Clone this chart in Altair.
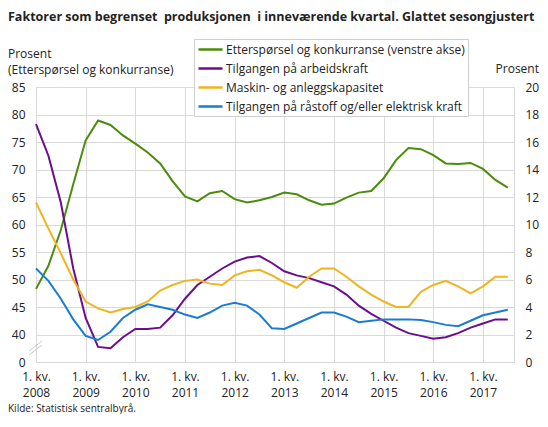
import altair as alt
import pandas as pd

FONT = "Open Sans"
W, H = 478, 275

kvartaler = [f"{aar}K{k}" for aar in range(2008, 2018) for k in range(1, 5)][:39]

navn = [
    "Etterspørsel og konkurranse (venstre akse)",
    "Tilgangen på arbeidskraft",
    "Maskin- og anleggskapasitet",
    "Tilgangen på råstoff og/eller elektrisk kraft",
]
farger = ["#4a8c0c", "#6a0e8e", "#f0b41e", "#1a7bd4"]

# venstre akse
ettersporsel = [48.3, 52.5, 59.0, 67.3, 75.3, 78.9, 78.1, 76.2, 74.7, 73.1,
                71.1, 67.9, 65.1, 64.2, 65.7, 66.1, 64.6, 64.0, 64.4, 65.0,
                65.8, 65.5, 64.4, 63.6, 63.8, 64.9, 65.8, 66.1, 68.4, 71.7,
                73.9, 73.7, 72.6, 71.1, 71.0, 71.2, 70.1, 68.1, 66.7]
# høyre akse
arbeidskraft = [17.3, 15.0, 11.6, 6.8, 3.2, 1.1, 1.0, 1.8, 2.4, 2.4,
                2.5, 3.4, 4.6, 5.6, 6.2, 6.8, 7.3, 7.6, 7.7, 7.2,
                6.6, 6.3, 6.1, 5.8, 5.5, 4.9, 4.1, 3.5, 3.0, 2.5,
                2.1, 1.9, 1.7, 1.8, 2.1, 2.5, 2.8, 3.1, 3.1]
maskin = [11.6, 9.7, 7.9, 6.0, 4.4, 3.9, 3.6, 3.85, 4.0, 4.4,
          5.2, 5.6, 5.9, 6.0, 5.7, 5.6, 6.3, 6.6, 6.7, 6.3,
          5.8, 5.4, 6.2, 6.8, 6.8, 6.2, 5.5, 4.9, 4.4, 4.0,
          4.0, 5.1, 5.6, 5.9, 5.5, 5.0, 5.5, 6.2, 6.2]
raastoff = [6.8, 5.9, 4.6, 3.1, 1.9, 1.6, 2.2, 3.2, 3.8, 4.2,
            4.0, 3.8, 3.45, 3.2, 3.6, 4.1, 4.3, 4.1, 3.45, 2.45,
            2.4, 2.8, 3.2, 3.6, 3.6, 3.3, 2.9, 3.0, 3.1, 3.1,
            3.1, 3.05, 2.9, 2.7, 2.6, 3.0, 3.4, 3.6, 3.8]

venstre_ticks = [0, 40, 45, 50, 55, 60, 65, 70, 75, 80, 85]
hoyre_ticks = list(range(0, 21, 2))
aar_ticks = list(range(0, 37, 4))


def serie(verdier, n):
    return pd.DataFrame({"t": range(len(verdier)), "kvartal": kvartaler,
                         "verdi": verdier, "serie": navn[n]})


df_v = serie(ettersporsel, 0)
df_h = pd.concat([serie(arbeidskraft, 1), serie(maskin, 2), serie(raastoff, 3)])

legende = alt.Legend(
    orient="none", legendX=158, legendY=-48, title=None,
    symbolType="M-1,0H3", symbolSize=144, symbolStrokeWidth=2.5,
    labelOffset=14, rowPadding=5, padding=3,
    strokeColor="#cfcfcf", fillColor="white",
    labelFont=FONT, labelFontSize=12, labelColor="#222", labelLimit=400,
)
farge = alt.Color("serie:N", scale=alt.Scale(domain=navn, range=farger), legend=legende)

x = alt.X(
    "t:Q",
    scale=alt.Scale(domain=[0, 38.5], nice=False, zero=False),
    axis=alt.Axis(values=aar_ticks, grid=True, ticks=False, domain=False, title=None,
                  labelExpr="['1. kv.', '' + (2008 + datum.value / 4)]",
                  labelFlush=False, labelOverlap=False,
                  labelPadding=9, labelLineHeight=16, labelBaseline="top"),
)

venstre = alt.Chart(df_v).mark_line(strokeWidth=2).encode(
    x=x,
    y=alt.Y("verdi:Q",
            scale=alt.Scale(domain=[0, 40, 85], range=[H, H * 0.9, 0], nice=False, zero=False),
            axis=alt.Axis(orient="left", values=venstre_ticks, grid=True, ticks=False,
                          domain=False, title=None, labelPadding=11)),
    color=farge,
)

hoyre = alt.Chart(df_h).mark_line(strokeWidth=2).encode(
    x=x,
    y=alt.Y("verdi:Q",
            scale=alt.Scale(domain=[0, 20], nice=False),
            axis=alt.Axis(orient="right", values=hoyre_ticks, grid=False, ticks=False,
                          domain=False, title=None, labelPadding=11, labelAlign="left")),
    color=farge,
)


def tekst(innhold, px, py, align="left", size=12, **kw):
    return alt.Chart(pd.DataFrame({"tekst": [innhold]})).mark_text(
        align=align, baseline="middle", font=FONT, fontSize=size, color="#222", **kw
    ).encode(x=alt.value(px), y=alt.value(py), text="tekst:N")


tittel = tekst("Faktorer som begrenset\u00a0 produksjonen\u00a0 i inneværende kvartal. Glattet sesongjustert",
               -28, -70, size=12.5, fontWeight="bold")
prosent_v1 = tekst("Prosent", -28, -33)
prosent_v2 = tekst("(Etterspørsel og konkurranse)", -28, -17)
prosent_h = tekst("Prosent", 503, -18, align="right")
kilde = tekst("Kilde: Statistisk sentralbyrå.", -28, 322, size=10)

# bruddmarkering på venstre akse
brudd1 = alt.Chart(pd.DataFrame({"a": [0]})).mark_rule(color="#c8c8c8", strokeWidth=1).encode(
    x=alt.value(-7), x2=alt.value(6), y=alt.value(264), y2=alt.value(254))
brudd2 = alt.Chart(pd.DataFrame({"a": [0]})).mark_rule(color="#c8c8c8", strokeWidth=1).encode(
    x=alt.value(-7), x2=alt.value(6), y=alt.value(268), y2=alt.value(258))

chart = alt.layer(
    venstre, hoyre, brudd1, brudd2, tittel, prosent_v1, prosent_v2, prosent_h, kilde
).resolve_scale(
    y="independent"
).properties(
    width=W, height=H,
    autosize=alt.AutoSizeParams(type="none"),
    padding={"left": 28, "top": 79, "right": 26, "bottom": 52},
).configure_view(
    stroke="#d9d9d9"
).configure_axis(
    gridColor="#d9d9d9", gridWidth=1,
    labelFont=FONT, labelFontSize=12, labelColor="#222",
)

chart.save("out.html", embed_options={"renderer": "svg", "actions": False})
